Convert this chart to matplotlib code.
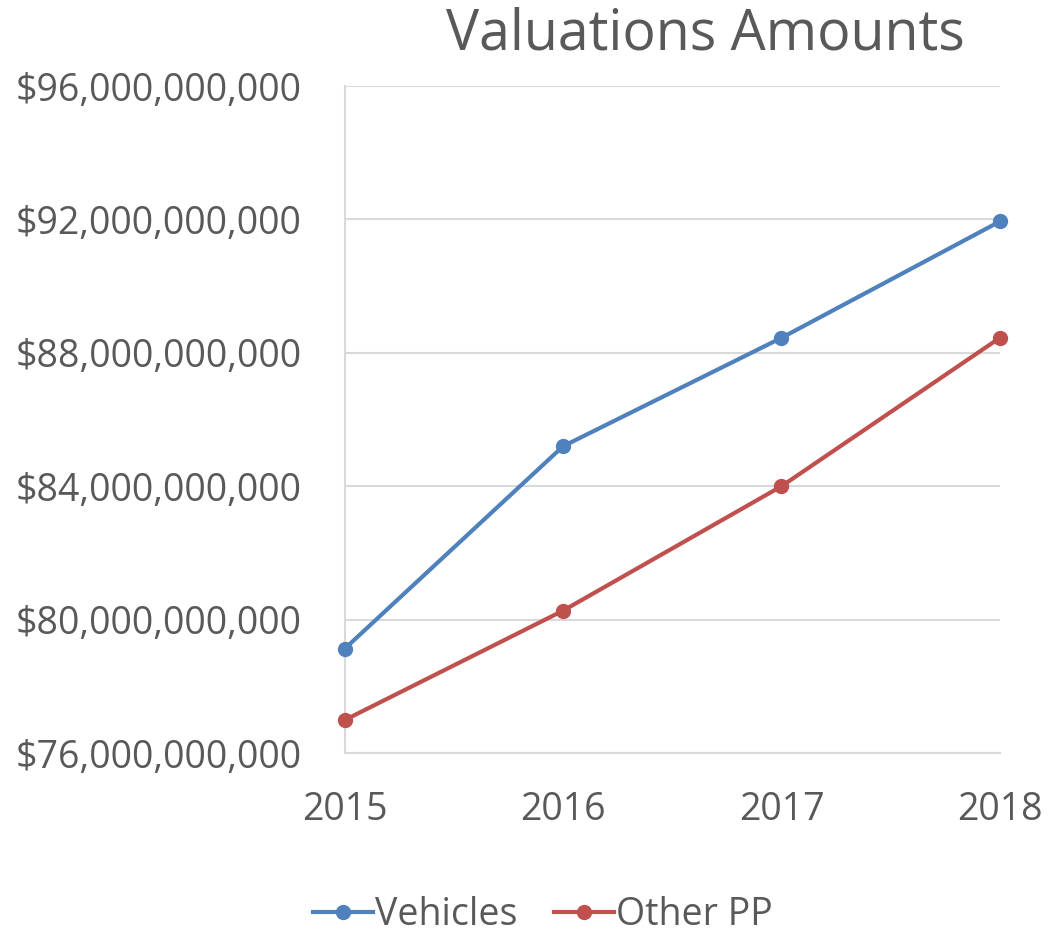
import matplotlib
matplotlib.use("Agg")
import matplotlib.pyplot as plt
from matplotlib.ticker import FuncFormatter

plt.rcParams['font.family'] = ['Open Sans', 'DejaVu Sans']

years = [2015, 2016, 2017, 2018]
vehicles = [79.13e9, 85.2e9, 88.45e9, 91.94e9]
other_pp = [76.99e9, 80.27e9, 84.0e9, 88.45e9]

text_color = '#595959'
grid_color = '#d9d9d9'

fig = plt.figure(figsize=(10.48, 9.36), dpi=100)
ax = fig.add_axes([0.329, 0.1955, 0.625, 0.7125])

ax.plot(years, vehicles, color='#4F81BD', lw=3, marker='o', ms=10, label='Vehicles', clip_on=False, zorder=3)
ax.plot(years, other_pp, color='#C0504D', lw=3, marker='o', ms=10, label='Other PP', clip_on=False, zorder=3)

ax.set_xlim(2015, 2018)
ax.set_ylim(76e9, 96e9)
ax.set_xticks(years)
ax.set_yticks([76e9, 80e9, 84e9, 88e9, 92e9, 96e9])
ax.yaxis.set_major_formatter(FuncFormatter(lambda v, p: '${:,.0f}'.format(v)))
ax.grid(axis='y', color=grid_color, lw=1.5)
ax.set_axisbelow(True)

for s in ['top', 'right']:
    ax.spines[s].set_visible(False)
for s in ['left', 'bottom']:
    ax.spines[s].set_color(grid_color)
    ax.spines[s].set_linewidth(1.5)

ax.tick_params(length=0, labelsize=27, colors=text_color)
ax.tick_params(axis='x', pad=27)
ax.tick_params(axis='y', pad=31)

fig.text(0.673, 0.963, 'Valuations Amounts', ha='center', va='center', fontsize=40, color=text_color)

leg = fig.legend(loc='center', bbox_to_anchor=(0.518, 0.022), ncol=2, frameon=False,
                 fontsize=27, handlelength=1.6, handletextpad=0.05, columnspacing=1.0,
                 borderpad=0.1)
for t in leg.get_texts():
    t.set_color(text_color)

fig.savefig('out.png', dpi=100)
